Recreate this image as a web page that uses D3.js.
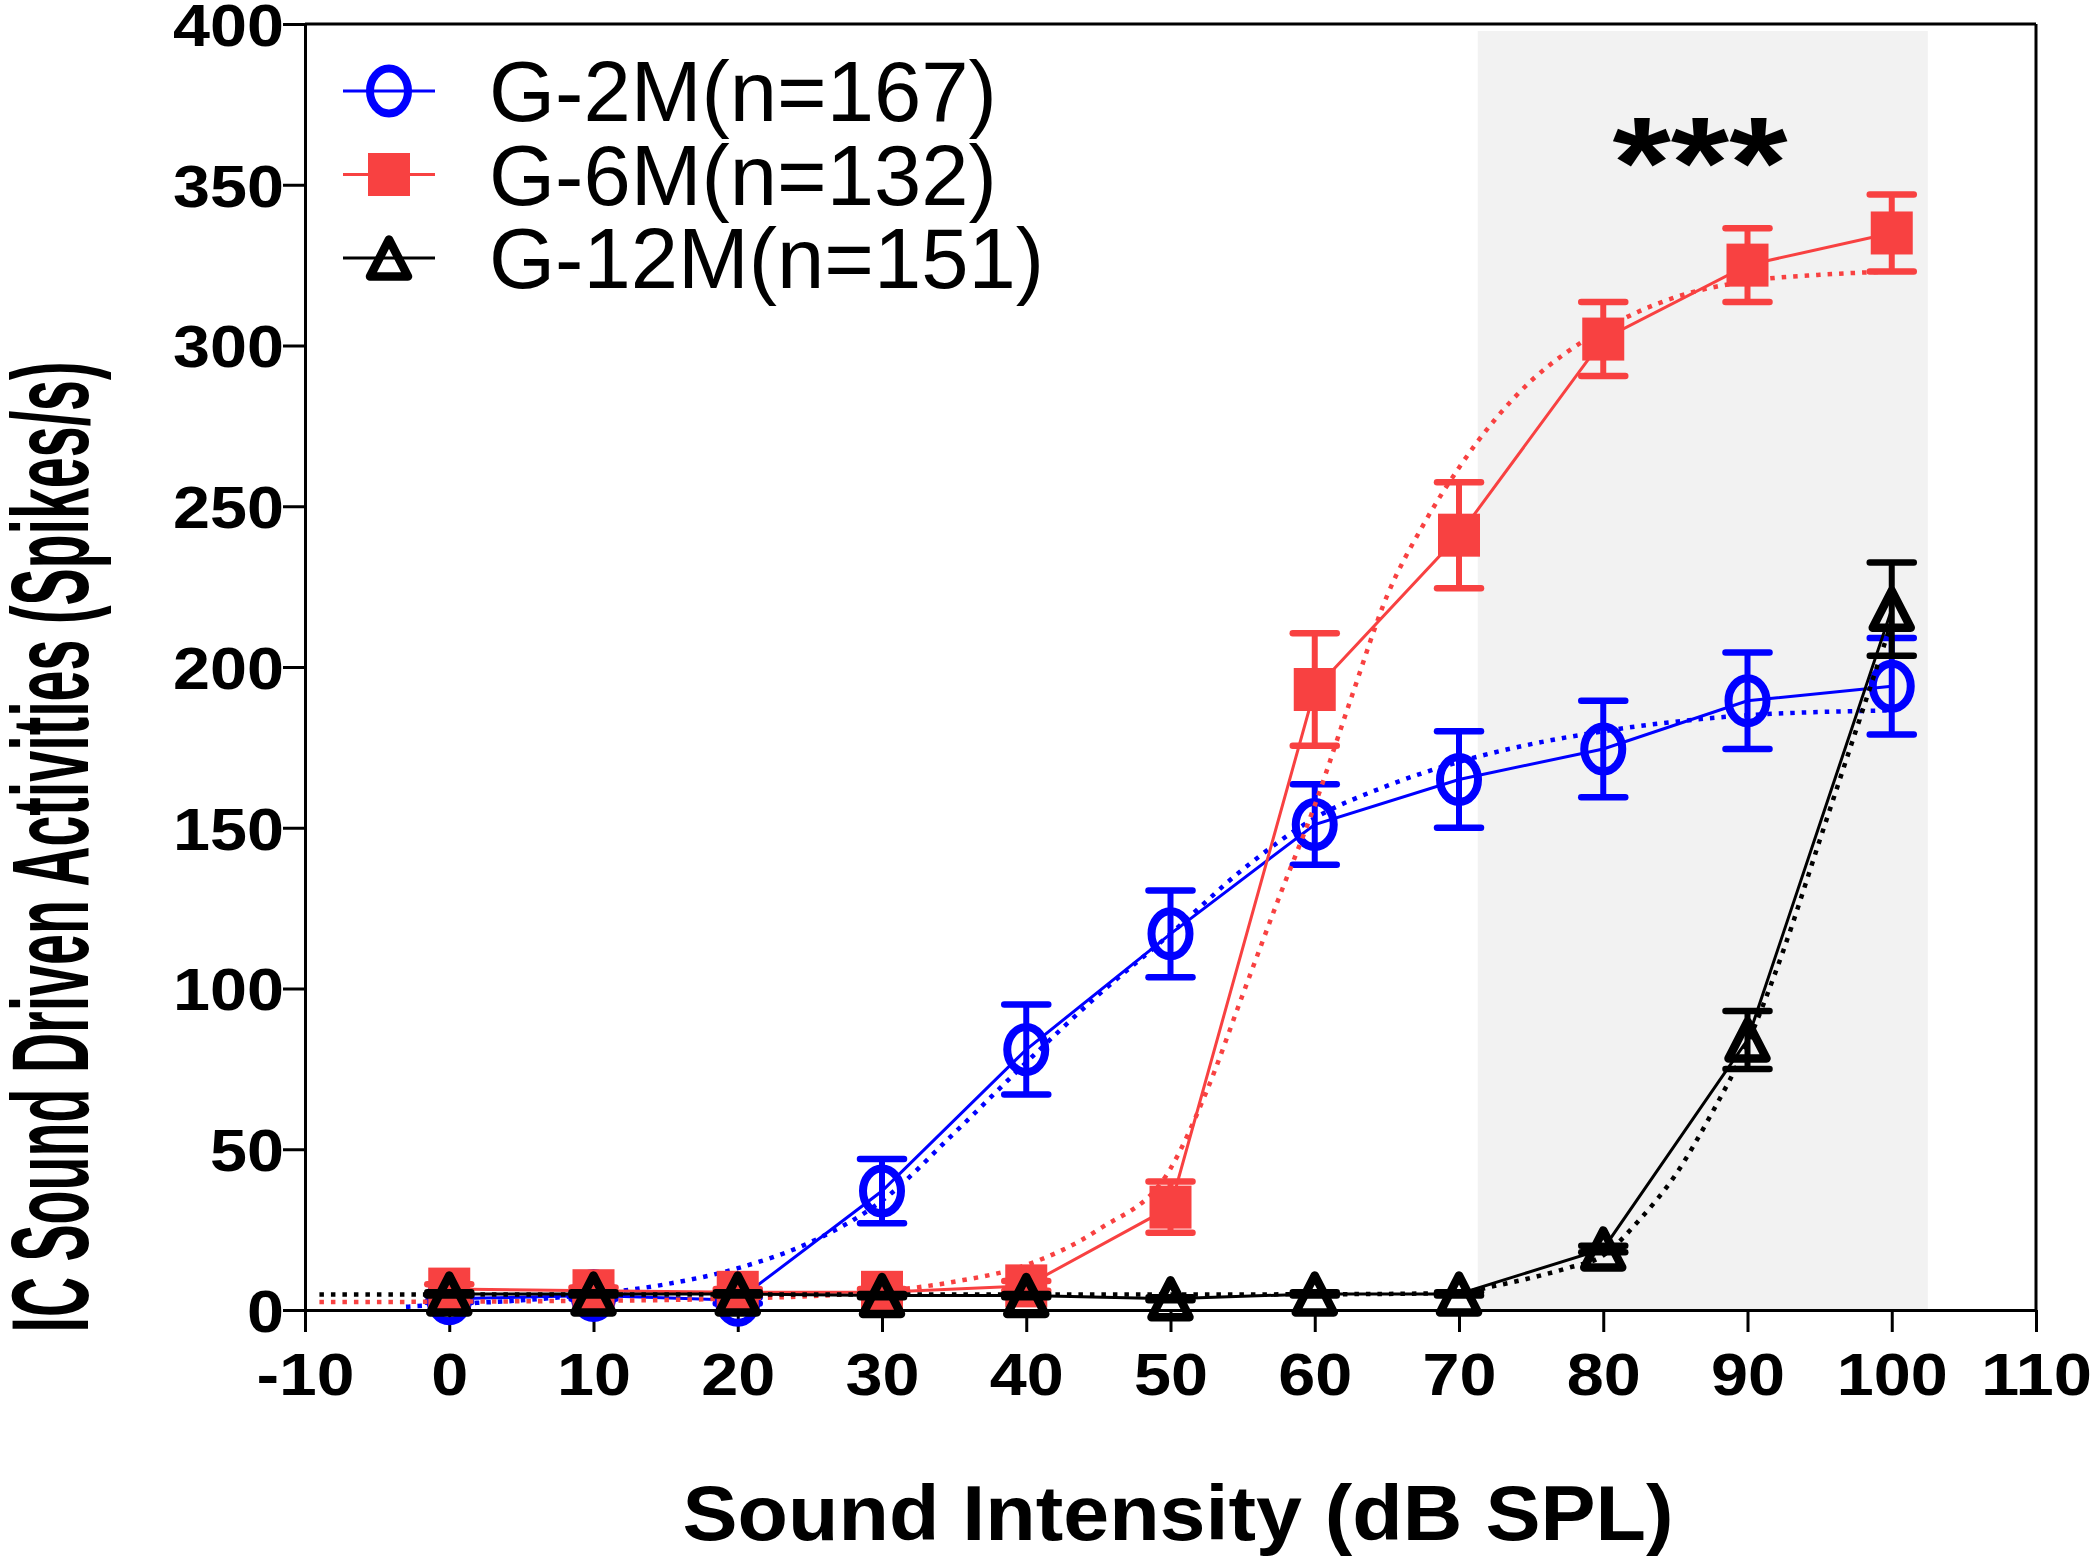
<!DOCTYPE html>
<html><head><meta charset="utf-8">
<script src="https://cdn.jsdelivr.net/npm/d3@7"></script>
<style>html,body{margin:0;padding:0;background:#fff;} svg{display:block;}</style>
</head><body>
<svg id="chart" width="2100" height="1558"></svg>
<script>
// ---------- data ----------
const intensities = [0, 10, 20, 30, 40, 50, 60, 70, 80, 90, 100];
const xTicks = [-10, 0, 10, 20, 30, 40, 50, 60, 70, 80, 90, 100, 110];
const yTicks = [0, 50, 100, 150, 200, 250, 300, 350, 400];
const seriesNames = ["G-2M(n=167)", "G-6M(n=132)", "G-12M(n=151)"];

const g2mMean = [3.5, 4.5, 3, 37, 81, 117, 151, 165, 174.5, 189.5, 194];
const g2mSem  = [1, 1, 1, 10, 14, 13.5, 12.5, 15, 15, 15, 15];
const g6mMean = [6.5, 6, 5.5, 5.5, 7.5, 32, 193, 241, 302, 325, 335];
const g6mSem  = [1.5, 1, 1, 1, 1.5, 8, 17.5, 16.5, 11.5, 11.5, 12];
const g12mMean = [5, 5, 5, 4.5, 4.5, 3.5, 5, 5, 19, 84, 218];
const g12mSem  = [0.5, 0.5, 0.5, 0.5, 0.5, 0.5, 0.5, 0.5, 1, 9, 14.5];

// fitted (dotted) curves
const g2mFitX = [-3, 0, 5, 10, 15, 20, 25, 30, 35, 40, 45, 50, 55, 60, 65, 70, 75, 80, 85, 90, 95, 100];
const g2mFitY = [1, 1.8, 3, 5, 8, 13, 21, 34, 55, 77, 98, 117, 137, 153, 163, 170.5, 176, 180, 183, 185, 186, 186.5];
const g6mFitX = [-9, -5, 0, 5, 10, 15, 20, 25, 30, 35, 40, 45, 50, 52.5, 55, 57.5, 60, 62.5, 65, 67.5, 70, 72.5, 75, 77.5, 80, 85, 90, 95, 100];
const g6mFitY = [2.5, 2.5, 2.6, 2.7, 2.9, 3.1, 3.6, 4.3, 5.8, 8.8, 14, 25, 44, 68, 98, 128, 157, 190, 222, 244, 262, 277, 289, 298, 305, 315, 320, 322, 323];
const g12mFitX = [-9, 0, 10, 20, 30, 40, 50, 60, 65, 70, 72.5, 75, 77.5, 80, 82.5, 85, 87.5, 90, 92.5, 95, 97.5, 100];
const g12mFitY = [4.8, 4.8, 4.8, 4.8, 4.8, 4.8, 4.8, 4.9, 5, 5.4, 7.5, 10, 13, 17, 28, 42, 61, 83, 112, 146, 180, 214];

const significance = "***";

// ---------- drawing ----------
const FONT = "'Liberation Sans', Arial, Helvetica, sans-serif";
const svg = d3.select("#chart");
const x = d3.scaleLinear().domain([-10, 110]).range([305, 2036]);
const y = d3.scaleLinear().domain([0, 400]).range([1310, 24]);

const BLUE = "#0000ff", RED = "#f84141", BLACK = "#000000";

// shaded region
svg.append("rect")
  .attr("x", x(71.3)).attr("y", 31)
  .attr("width", x(102.5) - x(71.3)).attr("height", y(0) - 31)
  .attr("fill", "#f2f2f2");

// axes
const yAxisG = svg.append("g").attr("transform", `translate(${x(-10)},0)`)
  .call(d3.axisLeft(y).tickValues(yTicks).tickSizeInner(22).tickSizeOuter(0).tickPadding(0).tickFormat(d => String(d)));
const xAxisG = svg.append("g").attr("transform", `translate(0,${y(0)})`)
  .call(d3.axisBottom(x).tickValues(xTicks).tickSizeInner(22).tickSizeOuter(0).tickPadding(0).tickFormat(d => String(d)));

[yAxisG, xAxisG].forEach(g => {
  g.select(".domain").attr("stroke", "#000").attr("stroke-width", 3);
  g.selectAll(".tick line").attr("stroke", "#000").attr("stroke-width", 3);
  g.selectAll(".tick text")
    .attr("font-family", FONT).attr("font-size", 59).attr("font-weight", "bold").attr("fill", "#000")
    .attr("lengthAdjust", "spacingAndGlyphs")
    .attr("textLength", d => { const s = String(d); return s.replace("-", "").length * 37 + (s.includes("-") ? 24 : 0); });
});
yAxisG.selectAll(".tick text").attr("x", -21).attr("dy", "0.36em");
xAxisG.selectAll(".tick text").attr("y", 43).attr("dy", "0.72em");

// frame (top and right)
svg.append("line").attr("x1", x(-10)).attr("x2", x(110)).attr("y1", y(400)).attr("y2", y(400)).attr("stroke", "#000").attr("stroke-width", 3);
svg.append("line").attr("x1", x(110)).attr("x2", x(110)).attr("y1", y(400)).attr("y2", y(0)).attr("stroke", "#000").attr("stroke-width", 3);

// marker drawing
function drawMarker(g, type, color, cx, cy) {
  if (type === "circle") {
    g.append("ellipse").attr("cx", cx).attr("cy", cy).attr("rx", 19).attr("ry", 22.5)
      .attr("fill", "none").attr("stroke", color).attr("stroke-width", 8);
  } else if (type === "square") {
    g.append("rect").attr("x", cx - 21).attr("y", cy - 21.5).attr("width", 42).attr("height", 43).attr("fill", color);
  } else {
    const w = 38, h = 37;
    g.append("path").attr("d", `M${cx},${cy - h / 2}L${cx + w / 2},${cy + h / 2}L${cx - w / 2},${cy + h / 2}Z`)
      .attr("fill", "none").attr("stroke", color).attr("stroke-width", 8.5).attr("stroke-linejoin", "round");
  }
}

const series = [
  { name: seriesNames[0], color: BLUE, marker: "circle", mean: g2mMean, sem: g2mSem, fx: g2mFitX, fy: g2mFitY },
  { name: seriesNames[1], color: RED, marker: "square", mean: g6mMean, sem: g6mSem, fx: g6mFitX, fy: g6mFitY },
  { name: seriesNames[2], color: BLACK, marker: "triangle", mean: g12mMean, sem: g12mSem, fx: g12mFitX, fy: g12mFitY }
];

const fitLine = d3.line().x(d => x(d[0])).y(d => y(d[1])).curve(d3.curveMonotoneX);
const dataLine = d3.line().x(d => x(d[0])).y(d => y(d[1]));

series.forEach(s => {
  const g = svg.append("g");
  g.append("path").datum(s.fx.map((v, i) => [v, s.fy[i]]))
    .attr("d", fitLine).attr("fill", "none").attr("stroke", s.color)
    .attr("stroke-width", 4.5).attr("stroke-dasharray", "4.5 7");
  g.append("path").datum(intensities.map((v, i) => [v, s.mean[i]]))
    .attr("d", dataLine).attr("fill", "none").attr("stroke", s.color).attr("stroke-width", 3);
  intensities.forEach((v, i) => {
    const cx = x(v), lo = y(s.mean[i] - s.sem[i]), hi = y(s.mean[i] + s.sem[i]);
    g.append("line").attr("x1", cx).attr("x2", cx).attr("y1", lo).attr("y2", hi).attr("stroke", s.color).attr("stroke-width", 6);
    [lo, hi].forEach(yy => g.append("line").attr("x1", cx - 22).attr("x2", cx + 22).attr("y1", yy).attr("y2", yy)
      .attr("stroke", s.color).attr("stroke-width", 6.5).attr("stroke-linecap", "round"));
  });
  intensities.forEach((v, i) => drawMarker(g, s.marker, s.color, x(v), y(s.mean[i])));
});

// legend
const legend = svg.append("g");
series.forEach((s, i) => {
  const cy = 91 + i * 83.5;
  legend.append("line").attr("x1", 343).attr("x2", 435).attr("y1", cy).attr("y2", cy).attr("stroke", s.color).attr("stroke-width", 3);
  drawMarker(legend, s.marker, s.color, 389, cy);
  legend.append("text").attr("x", 489).attr("y", cy + 30)
    .attr("font-family", FONT).attr("font-size", 85).attr("fill", "#000").text(s.name);
});

// significance
svg.append("text").attr("x", 1700).attr("y", 208).attr("text-anchor", "middle")
  .attr("font-family", FONT).attr("font-size", 130).attr("font-weight", "bold")
  .attr("textLength", 175).attr("lengthAdjust", "spacingAndGlyphs").text(significance);

// axis titles
svg.append("text").attr("x", 1178).attr("y", 1540).attr("text-anchor", "middle")
  .attr("font-family", FONT).attr("font-size", 78).attr("font-weight", "bold")
  .attr("textLength", 991).attr("lengthAdjust", "spacingAndGlyphs")
  .text("Sound Intensity (dB SPL)");
svg.append("text").attr("transform", "translate(88,847) rotate(-90)").attr("text-anchor", "middle")
  .attr("font-family", FONT).attr("font-size", 110).attr("font-weight", "bold")
  .attr("textLength", 971).attr("lengthAdjust", "spacingAndGlyphs")
  .text("IC Sound Driven Activities (Spikes/s)");
</script>
</body></html>
